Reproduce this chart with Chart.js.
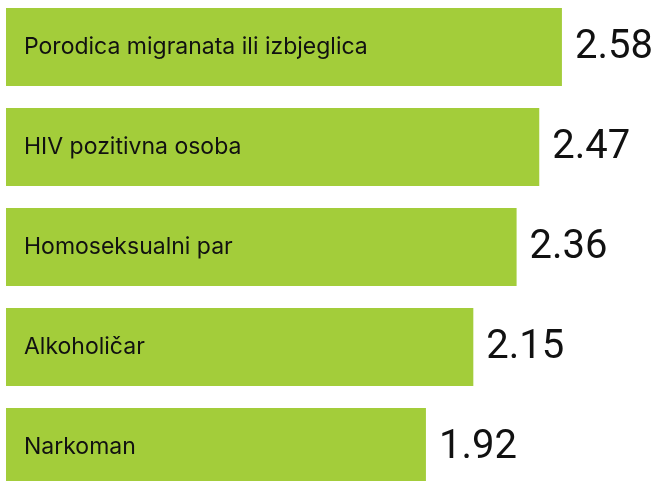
<!DOCTYPE html>
<html>
<head>
<meta charset="utf-8">
<script src="https://cdn.jsdelivr.net/npm/chart.js@4/dist/chart.umd.min.js"></script>
<style>
  html, body { margin: 0; padding: 0; background: #fff; overflow: hidden; }
  #wrap { position: absolute; left: 0; top: -3px; width: 653px; height: 500px; }
</style>
</head>
<body>
<div id="wrap"><canvas id="c"></canvas></div>
<script>
const categories = ["Porodica migranata ili izbjeglica", "HIV pozitivna osoba", "Homoseksualni par", "Alkoholičar", "Narkoman"];
const values = [2.58, 2.47, 2.36, 2.15, 1.92];
const valueLabels = ["2.58", "2.47", "2.36", "2.15", "1.92"];

const AXIS_MIN = -0.118;
const AXIS_MAX = 3.022;
const BAR_COLOR = "#a3cd3a";

const labelPlugin = {
  id: "labels",
  afterDatasetsDraw(chart) {
    const ctx = chart.ctx;
    const meta = chart.getDatasetMeta(0);
    ctx.save();
    ctx.textBaseline = "middle";
    ctx.fillStyle = "#111111";
    meta.data.forEach((bar, i) => {
      const left = Math.min(bar.x, bar.base);
      const right = Math.max(bar.x, bar.base);
      ctx.font = "23px Inter";
      ctx.textAlign = "left";
      ctx.fillText(categories[i], left + 18, bar.y);
      ctx.font = "40px Roboto";
      ctx.fillText(valueLabels[i], right + 13, bar.y + 1);
    });
    ctx.restore();
  }
};

new Chart(document.getElementById("c"), {
  type: "bar",
  data: {
    labels: categories,
    datasets: [{
      data: values,
      backgroundColor: BAR_COLOR,
      borderWidth: 0,
      base: AXIS_MIN,
      barPercentage: 0.78,
      categoryPercentage: 1.0
    }]
  },
  options: {
    indexAxis: "y",
    responsive: true,
    maintainAspectRatio: false,
    animation: false,
    layout: { padding: { left: 6, right: 0, top: 0, bottom: 0 } },
    plugins: { legend: { display: false }, tooltip: { enabled: false } },
    scales: {
      x: { display: false, min: AXIS_MIN, max: AXIS_MAX },
      y: { display: false }
    }
  },
  plugins: [labelPlugin]
});
</script>
</body>
</html>
